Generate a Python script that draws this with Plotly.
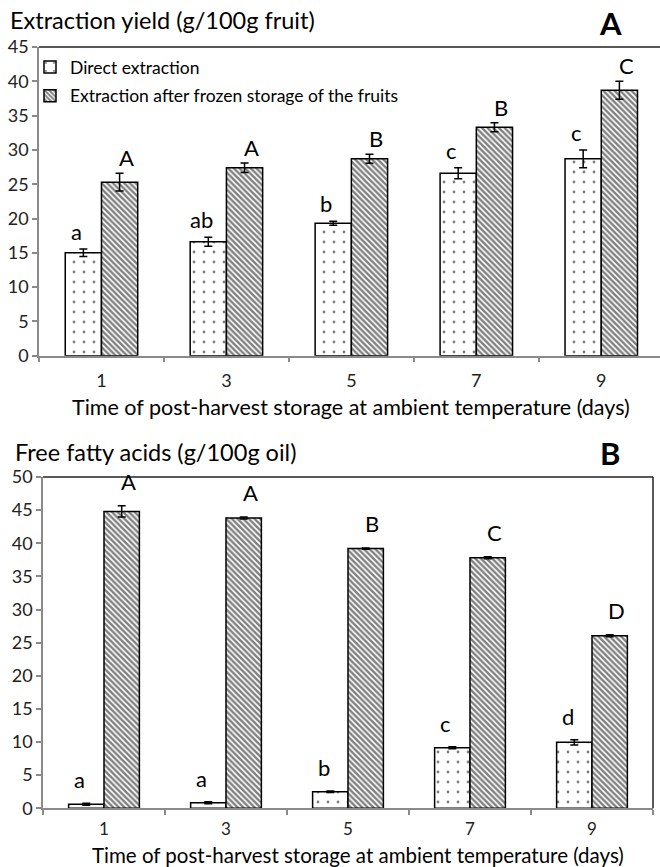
import plotly.graph_objects as go

days = ["1", "3", "5", "7", "9"]

# Panel A: extraction yield (g/100g fruit)
yield_direct = [15.0, 16.6, 19.3, 26.6, 28.7]
yield_direct_err = [0.55, 0.65, 0.3, 0.8, 1.3]
yield_frozen = [25.3, 27.4, 28.7, 33.3, 38.7]
yield_frozen_err = [1.3, 0.7, 0.65, 0.65, 1.3]
yield_direct_letters = ["a", "ab", "b", "c", "c"]
yield_frozen_letters = ["A", "A", "B", "B", "C"]

# Panel B: free fatty acids (g/100g oil)
ffa_direct = [0.6, 0.85, 2.5, 9.15, 9.95]
ffa_direct_err = [0.15, 0.15, 0.1, 0.15, 0.4]
ffa_frozen = [44.8, 43.8, 39.2, 37.8, 26.05]
ffa_frozen_err = [0.85, 0.15, 0.1, 0.15, 0.15]
ffa_direct_letters = ["a", "a", "b", "c", "d"]
ffa_frozen_letters = ["A", "A", "B", "C", "D"]

W, H = 660, 867
FONT = "Lato"

def py(p):
    return 1 - p / H

def px(p):
    return p / W

dot_marker = dict(
    color="white",
    line=dict(color="black", width=1.5),
    pattern=dict(shape=".", fgcolor="black", bgcolor="white", size=10, solidity=0.06),
)
hatch_marker = dict(
    color="white",
    line=dict(color="black", width=1.5),
    pattern=dict(shape="\\", fgcolor="black", bgcolor="white", size=4, solidity=0.6),
)
err_style = dict(type="data", color="black", thickness=1.5, width=4)

fig = go.Figure()
fig.add_trace(go.Bar(x=days, y=yield_direct, name="Direct extraction", marker=dot_marker,
                     legendgroup="g1",
                     error_y=dict(array=yield_direct_err, **err_style), xaxis="x", yaxis="y"))
fig.add_trace(go.Bar(x=days, y=yield_frozen, name="Extraction after frozen storage of the fruits",
                     marker=hatch_marker, legendgroup="g2",
                     error_y=dict(array=yield_frozen_err, **err_style),
                     xaxis="x", yaxis="y"))
fig.add_trace(go.Bar(x=days, y=ffa_direct, name="Direct extraction", marker=dot_marker, showlegend=False,
                     legendgroup="g1",
                     error_y=dict(array=ffa_direct_err, **err_style), xaxis="x2", yaxis="y2"))
fig.add_trace(go.Bar(x=days, y=ffa_frozen, name="Extraction after frozen storage of the fruits",
                     marker=hatch_marker, showlegend=False, legendgroup="g2",
                     error_y=dict(array=ffa_frozen_err, **err_style), xaxis="x2", yaxis="y2"))

annotations = []
offset = 0.2
for xa, ya, vals, errs, letters, dx, ys in [
    ("x", "y", yield_direct, yield_direct_err, yield_direct_letters, -offset, 2),
    ("x", "y", yield_frozen, yield_frozen_err, yield_frozen_letters, offset, 0),
    ("x2", "y2", ffa_direct, ffa_direct_err, ffa_direct_letters, -offset, 8),
    ("x2", "y2", ffa_frozen, ffa_frozen_err, ffa_frozen_letters, offset, 9),
]:
    for i, (v, e, t) in enumerate(zip(vals, errs, letters)):
        annotations.append(dict(x=i + dx, y=v + e, xref=xa, yref=ya, text=t, showarrow=False,
                                yanchor="bottom", yshift=ys, font=dict(family=FONT, size=22, color="black")))

# titles and panel labels
annotations += [
    dict(x=px(8), y=py(20), xref="paper", yref="paper", text="Extraction yield (g/100g fruit)",
         showarrow=False, xanchor="left", yanchor="middle", font=dict(family=FONT, size=23.5, color="black")),
    dict(x=px(610), y=py(23), xref="paper", yref="paper", text="<b>A</b>",
         showarrow=False, xanchor="center", yanchor="middle", font=dict(family=FONT, size=31, color="black")),
    dict(x=px(13), y=py(452), xref="paper", yref="paper", text="Free fatty acids (g/100g oil)",
         showarrow=False, xanchor="left", yanchor="middle", font=dict(family=FONT, size=23.5, color="black")),
    dict(x=px(610), y=py(453), xref="paper", yref="paper", text="<b>B</b>",
         showarrow=False, xanchor="center", yanchor="middle", font=dict(family=FONT, size=31, color="black")),
    dict(x=px(351), y=py(407), xref="paper", yref="paper",
         text="Time of post-harvest storage at ambient temperature (days)",
         showarrow=False, xanchor="center", yanchor="middle", font=dict(family=FONT, size=21.5, color="black")),
    dict(x=px(358), y=py(855), xref="paper", yref="paper",
         text="Time of post-harvest storage at ambient temperature (days)", borderpad=0,
         showarrow=False, xanchor="center", yanchor="middle", font=dict(family=FONT, size=20.5, color="black")),
]

shapes = [
    # top border of panel A plot area
    dict(type="line", xref="paper", yref="paper", x0=px(39), x1=1, y0=py(47), y1=py(47),
         line=dict(color="#222", width=1.5)),
    # top and right border of panel B
    dict(type="line", xref="paper", yref="paper", x0=px(43), x1=px(653), y0=py(477), y1=py(477),
         line=dict(color="#222", width=1.5)),
    dict(type="line", xref="paper", yref="paper", x0=px(653), x1=px(653), y0=py(477), y1=py(808.3),
         line=dict(color="#222", width=1.5)),
]

axis_common = dict(showline=True, linecolor="#8a8a8a", linewidth=1.5, ticks="outside",
                   tickcolor="#8a8a8a", ticklen=5, tickwidth=1.5, showgrid=False, zeroline=False,
                   automargin=False)
tick_font = dict(family=FONT, size=18, color="#222")

fig.update_layout(
    width=W, height=H, margin=dict(l=0, r=0, t=0, b=0, autoexpand=False),
    paper_bgcolor="white", plot_bgcolor="white",
    barmode="group", bargap=0.42, bargroupgap=0,
    showlegend=True,
    legend=dict(x=px(30), y=py(49), xanchor="left", yanchor="top", bgcolor="rgba(0,0,0,0)",
                font=dict(family=FONT, size=17.5, color="black"), itemwidth=30, tracegroupgap=3),
    xaxis=dict(domain=[px(39), 1], range=[-0.5, 4.47], type="category", tickson="boundaries",
               ticklabelstandoff=8, anchor="y", tickfont=tick_font, **axis_common),
    yaxis=dict(domain=[py(355.7), py(47)], range=[0, 45], dtick=5, anchor="x",
               tickfont=tick_font, **axis_common),
    xaxis2=dict(domain=[px(43), px(653)], range=[-0.5, 4.5], type="category", tickson="boundaries",
                ticklabelstandoff=5, anchor="y2", tickfont=dict(family=FONT, size=17, color="#222"),
                **axis_common),
    yaxis2=dict(domain=[py(808.3), py(477)], range=[0, 50], dtick=5, anchor="x2",
                tickfont=tick_font, **axis_common),
    annotations=annotations,
    shapes=shapes,
)

fig.write_html("out.html", config={"displayModeBar": False},
               post_script="document.body.style.margin='0px';")
